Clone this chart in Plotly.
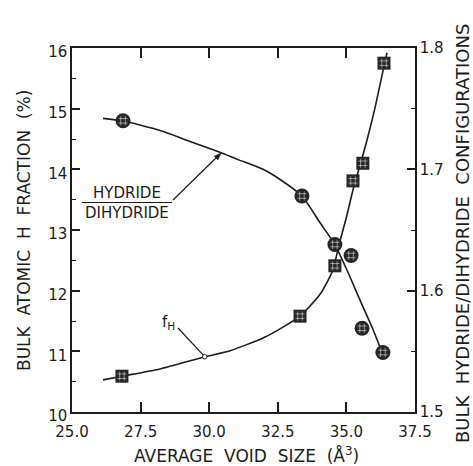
import plotly.graph_objects as go

# ---------------- data ----------------
x_ticks = [25.0, 27.5, 30.0, 32.5, 35.0, 37.5]
left_ticks = [10, 11, 12, 13, 14, 15, 16]
right_ticks = [1.5, 1.6, 1.7, 1.8]

# f_H : bulk atomic H fraction (%) -- squares, left axis
fh_void = [26.82, 33.31, 34.58, 35.24, 35.60, 36.37]
fh_frac = [10.59, 11.58, 12.41, 13.81, 14.10, 15.75]

# hydride / dihydride ratio -- circles, right axis
hd_void = [26.86, 33.38, 34.58, 35.17, 35.57, 36.33]
hd_ratio = [1.740, 1.678, 1.638, 1.629, 1.569, 1.549]

# hand-drawn fit curves
fh_curve_x = [26.13, 26.82, 28.21, 29.85, 30.76, 31.96, 32.69, 33.31, 34.04,
              34.51, 34.72, 35.00, 35.24, 35.50, 35.75, 36.04, 36.37, 36.48]
fh_curve_y = [10.53, 10.59, 10.71, 10.91, 11.01, 11.22, 11.40, 11.58, 11.94,
              12.34, 12.74, 13.21, 13.66, 14.07, 14.48, 15.01, 15.70, 15.92]
hd_curve_x = [26.13, 26.82, 28.21, 29.30, 30.39, 31.05, 31.96, 32.69, 33.38,
              34.04, 34.58, 35.02, 35.50, 35.97, 36.30]
hd_curve_y = [1.742, 1.740, 1.732, 1.723, 1.714, 1.708, 1.700, 1.690, 1.678,
              1.656, 1.638, 1.617, 1.592, 1.568, 1.549]

# ---------------- geometry helpers ----------------
W, H = 473, 466
L, R, T, B = 72, 58, 48, 54
PW, PH = W - L - R, H - T - B


def px(xp):
    return (xp - L) / PW


def py(yp):
    return (H - B - yp) / PH


FONT = "DejaVu Sans"
INK = "#1c1c1c"

fig = go.Figure()

# curves
fig.add_trace(go.Scatter(x=fh_curve_x, y=fh_curve_y, mode="lines",
                         line=dict(color=INK, width=1.6, shape="spline", smoothing=0.6),
                         yaxis="y", hoverinfo="skip", showlegend=False))
fig.add_trace(go.Scatter(x=hd_curve_x, y=hd_curve_y, mode="lines",
                         line=dict(color=INK, width=1.6, shape="spline", smoothing=0.6),
                         yaxis="y2", hoverinfo="skip", showlegend=False))

# markers (dark with light speckle)
speck = "rgba(255,255,255,0.5)"
fig.add_trace(go.Scatter(x=fh_void, y=fh_frac, mode="markers", yaxis="y",
                         marker=dict(symbol="square", size=13, color="#262626",
                                     line=dict(width=0)), showlegend=False))
fig.add_trace(go.Scatter(x=fh_void, y=fh_frac, mode="markers", yaxis="y",
                         marker=dict(symbol="hash-open", size=9, color=speck,
                                     line=dict(width=1, color=speck)),
                         showlegend=False, hoverinfo="skip"))
fig.add_trace(go.Scatter(x=hd_void, y=hd_ratio, mode="markers", yaxis="y2",
                         marker=dict(symbol="circle", size=15, color="#262626",
                                     line=dict(width=0)), showlegend=False))
fig.add_trace(go.Scatter(x=hd_void, y=hd_ratio, mode="markers", yaxis="y2",
                         marker=dict(symbol="hash-open", size=9, color=speck,
                                     line=dict(width=1, color=speck)),
                         showlegend=False, hoverinfo="skip"))

tickfont = dict(family=FONT, size=15, color=INK)
axis_common = dict(showgrid=False, zeroline=False, showline=True, linecolor=INK,
                   linewidth=1.5, ticks="inside", tickcolor=INK, tickwidth=1.5,
                   tickfont=tickfont)

fig.update_layout(
    width=W, height=H,
    margin=dict(l=L, r=R, t=T, b=B, pad=0),
    paper_bgcolor="white", plot_bgcolor="white",
    showlegend=False,
    xaxis=dict(range=[25, 37.5], tickvals=x_ticks, tickformat=".1f", ticklen=10,
               mirror="ticks", ticklabelstandoff=5, **axis_common),
    yaxis=dict(range=[10, 16], tickvals=left_ticks, ticklen=8, ticklabelshift=4,
               minor=dict(dtick=0.5, ticklen=4, ticks="inside", tickcolor=INK, tickwidth=1),
               **axis_common),
    yaxis2=dict(range=[1.5, 1.8], tickvals=right_ticks, tickformat=".1f", ticklen=8,
                overlaying="y", side="right",
                minor=dict(dtick=0.05, ticklen=4, ticks="inside", tickcolor=INK, tickwidth=1),
                **axis_common),
)

title_font = dict(family=FONT, size=17, color=INK)
lab_font = dict(family=FONT, size=15, color=INK)


def note(xp, yp, text, font, angle=0):
    return dict(x=px(xp), y=py(yp), xref="paper", yref="paper", text=text,
                showarrow=False, font=font, textangle=angle,
                xanchor="center", yanchor="middle")


annots = [
    note(24, 231, "BULK  ATOMIC  H  FRACTION  (%)", title_font, -90),
    note(462, 234, "BULK  HYDRIDE/DIHYDRIDE  CONFIGURATIONS",
         dict(family=FONT, size=18, color=INK), -90),
    note(246, 455, "AVERAGE  VOID  SIZE  (Å<sup>3</sup>)", title_font),
    note(127, 193, "HYDRIDE", lab_font),
    note(127, 213, "DIHYDRIDE", lab_font),
    note(168, 322, "f<sub>H</sub>", dict(family=FONT, size=15, color=INK)),
]
fig.update_layout(annotations=annots)

# fraction bar under HYDRIDE
fig.add_shape(type="line", xref="paper", yref="paper",
              x0=px(82), x1=px(172), y0=py(202.5), y1=py(202.5),
              line=dict(color=INK, width=1.2))
# pointer to the hydride/dihydride curve with arrowhead
fig.add_shape(type="line", xref="paper", yref="paper",
              x0=px(173), y0=py(200), x1=px(217), y1=py(157),
              line=dict(color=INK, width=1.2))
fig.add_shape(type="path", xref="paper", yref="paper",
              path=(f"M {px(221)},{py(153)} L {px(217.9)},{py(159.9)} "
                    f"L {px(214.3)},{py(156.2)} Z"),
              fillcolor=INK, line=dict(color=INK, width=0.5))
# pointer to the f_H curve ending in a small open circle
fig.add_shape(type="line", xref="paper", yref="paper",
              x0=px(178), y0=py(328), x1=px(203.3), y1=py(355.2),
              line=dict(color=INK, width=1.2))
fig.add_shape(type="circle", xref="paper", yref="paper",
              x0=px(202.5), x1=px(207), y0=py(354.5), y1=py(359),
              line=dict(color=INK, width=1), fillcolor="white")

fig.write_html("out.html")
